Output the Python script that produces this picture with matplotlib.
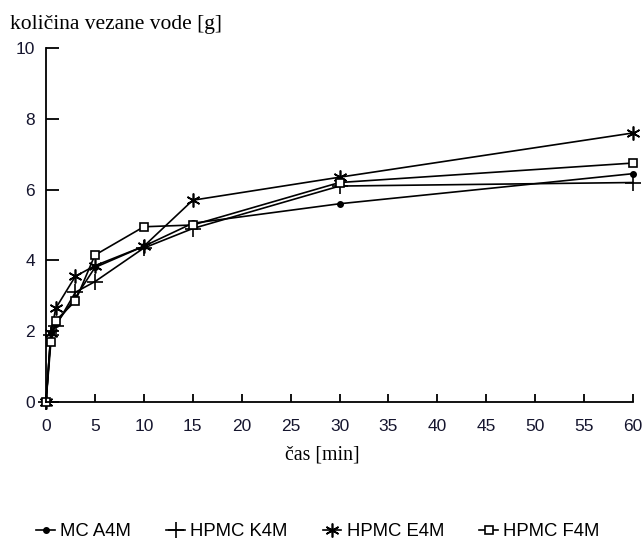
import numpy as np
import matplotlib
matplotlib.use("Agg")
import matplotlib.pyplot as plt

# sampling times [min]
t = [0, 0.5, 1, 3, 5, 10, 15, 30, 60]

# bound water [g]
mc_a4m = [0, 1.95, 2.2, 2.95, 3.8, 4.4, 5.05, 5.6, 6.45]
hpmc_k4m = [0, 1.9, 2.15, 3.1, 3.4, 4.35, 4.9, 6.1, 6.2]
hpmc_e4m = [0, 1.95, 2.65, 3.55, 3.85, 4.4, 5.7, 6.35, 7.6]
hpmc_f4m = [0, 1.7, 2.3, 2.85, 4.15, 4.95, 5.0, 6.2, 6.75]

series = [[mc_a4m, "MC A4M", dict(marker="o", ms=4, mfc="black")],
          [hpmc_k4m, "HPMC K4M", dict(marker="+", ms=12, mew=1.2)],
          [hpmc_e4m, "HPMC E4M", dict(marker=(6, 2, 0), ms=10, mew=1.2)],
          [hpmc_f4m, "HPMC F4M", dict(marker="s", ms=6, mfc="white", mew=1.2)]]

tick_color = "#15152e"

fig = plt.figure(figsize=(6.44, 5.43), dpi=100)
ax = fig.add_axes([46 / 644, 1 - 402 / 543, 587 / 644, 354 / 543])

for vals, name, style in series:
    ax.plot(t, vals, color="black", lw=1.2, label=name, clip_on=False, **style)

ax.set_xlim(0, 60)
ax.set_ylim(0, 10)
ax.set_xticks(np.arange(0, 61, 5))
ax.set_yticks(np.arange(0, 11, 2))
ax.spines["top"].set_visible(False)
ax.spines["right"].set_visible(False)
ax.spines["left"].set_linewidth(1.3)
ax.spines["bottom"].set_linewidth(1.3)
ax.tick_params(direction="in", width=1.3, labelsize=12.5, labelcolor=tick_color)
ax.tick_params(axis="x", length=6, pad=12)
ax.tick_params(axis="y", length=9, pad=8)
for lab in ax.get_xticklabels() + ax.get_yticklabels():
    lab.set_family("Liberation Sans")

fig.text(10 / 644, 1 - 24 / 543, "količina vezane vode [g]", family="Liberation Serif",
         fontsize=15.5, va="center", ha="left")
fig.text(322 / 644, 1 - 455 / 543, "čas [min]", family="Liberation Serif",
         fontsize=14.3, va="center", ha="center")

fig.legend(loc="center", bbox_to_anchor=(0.494, 1 - 532 / 543), ncol=4, frameon=False,
           handlelength=1.0, handletextpad=0.3, columnspacing=1.9,
           prop={"family": "Liberation Sans", "size": 13.3})

fig.savefig("out.png", dpi=100)
